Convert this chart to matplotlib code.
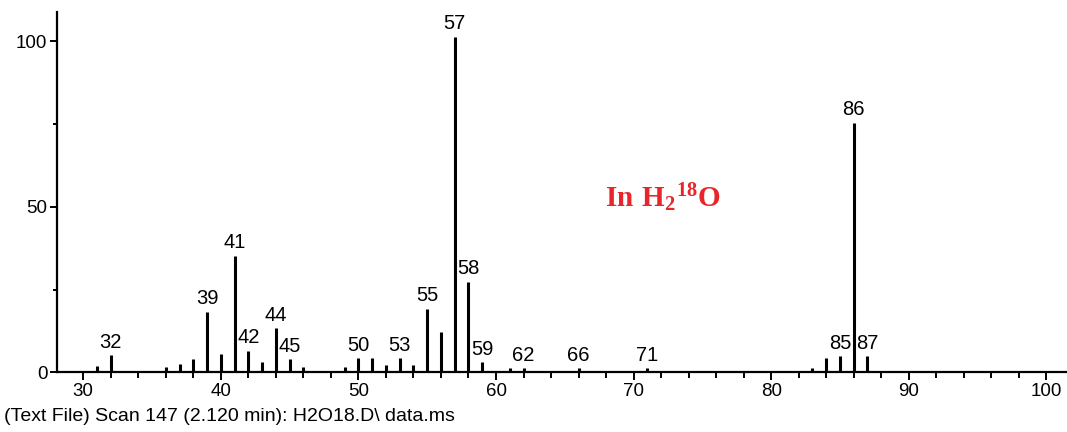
import matplotlib.pyplot as plt
from matplotlib.ticker import MultipleLocator

# Mass spectrum, scan 147 (H2 18O run)
mz = [31, 32, 36, 37, 38, 39, 40, 41, 42, 43, 44, 45, 46,
      49, 50, 51, 52, 53, 54, 55, 56, 57, 58, 59, 61, 62,
      66, 71, 83, 84, 85, 86, 87]
abundance = [2.0, 5.2, 1.5, 2.5, 4.0, 18.3, 5.5, 35.2, 6.5, 3.0, 13.4, 4.0, 1.5,
             1.5, 4.2, 4.2, 2.2, 4.2, 2.2, 19.3, 12.2, 101.4, 27.4, 3.0, 1.3, 1.3,
             1.2, 1.2, 1.2, 4.2, 4.9, 75.4, 4.9]
labelled = [32, 39, 41, 42, 44, 45, 50, 53, 55, 57, 58, 59, 62, 66, 71, 85, 86, 87]

plt.rcParams['font.family'] = ['Liberation Sans', 'DejaVu Sans']

fig = plt.figure(figsize=(10.67, 4.32), dpi=100)
ax = fig.add_axes([0.0534, 0.138, 0.9466, 0.835])

ax.vlines(mz, 0, abundance, color='black', linewidth=2.2)

for m, a in zip(mz, abundance):
    if m in labelled:
        ax.annotate(str(m), (m, a), xytext=(0, 2.5), textcoords='offset points',
                    ha='center', va='bottom', fontsize=14.5)

ax.set_xlim(28.09, 101.5)
ax.set_ylim(0, 109)

ax.xaxis.set_major_locator(MultipleLocator(10))
ax.xaxis.set_minor_locator(MultipleLocator(2))
ax.yaxis.set_major_locator(MultipleLocator(50))
ax.yaxis.set_minor_locator(MultipleLocator(25))

for side in ['top', 'right']:
    ax.spines[side].set_visible(False)
for side in ['left', 'bottom']:
    ax.spines[side].set_linewidth(1.6)

ax.tick_params(axis='both', which='major', direction='out', width=1.4, labelsize=13.5)
ax.tick_params(axis='x', which='major', length=6, pad=1.5)
ax.tick_params(axis='x', which='minor', length=4, width=1.4)
ax.tick_params(axis='y', which='major', length=5, pad=2)
ax.tick_params(axis='y', which='minor', length=3, width=1.4)

# sample annotation
plt.rcParams['mathtext.fontset'] = 'custom'
plt.rcParams['mathtext.bf'] = 'Liberation Serif:bold'
plt.rcParams['mathtext.rm'] = 'Liberation Serif:bold'
ax.text(67.9, 50, r'$\mathbf{In\ H_2{}^{18}O}$', color='#e8262a', fontsize=21,
        ha='left', va='baseline')

fig.text(0.004, 0.036, r'(Text File) Scan 147 (2.120 min): H2O18.D\ data.ms',
         fontsize=14, ha='left', va='center')

fig.savefig('out.png', dpi=100)
